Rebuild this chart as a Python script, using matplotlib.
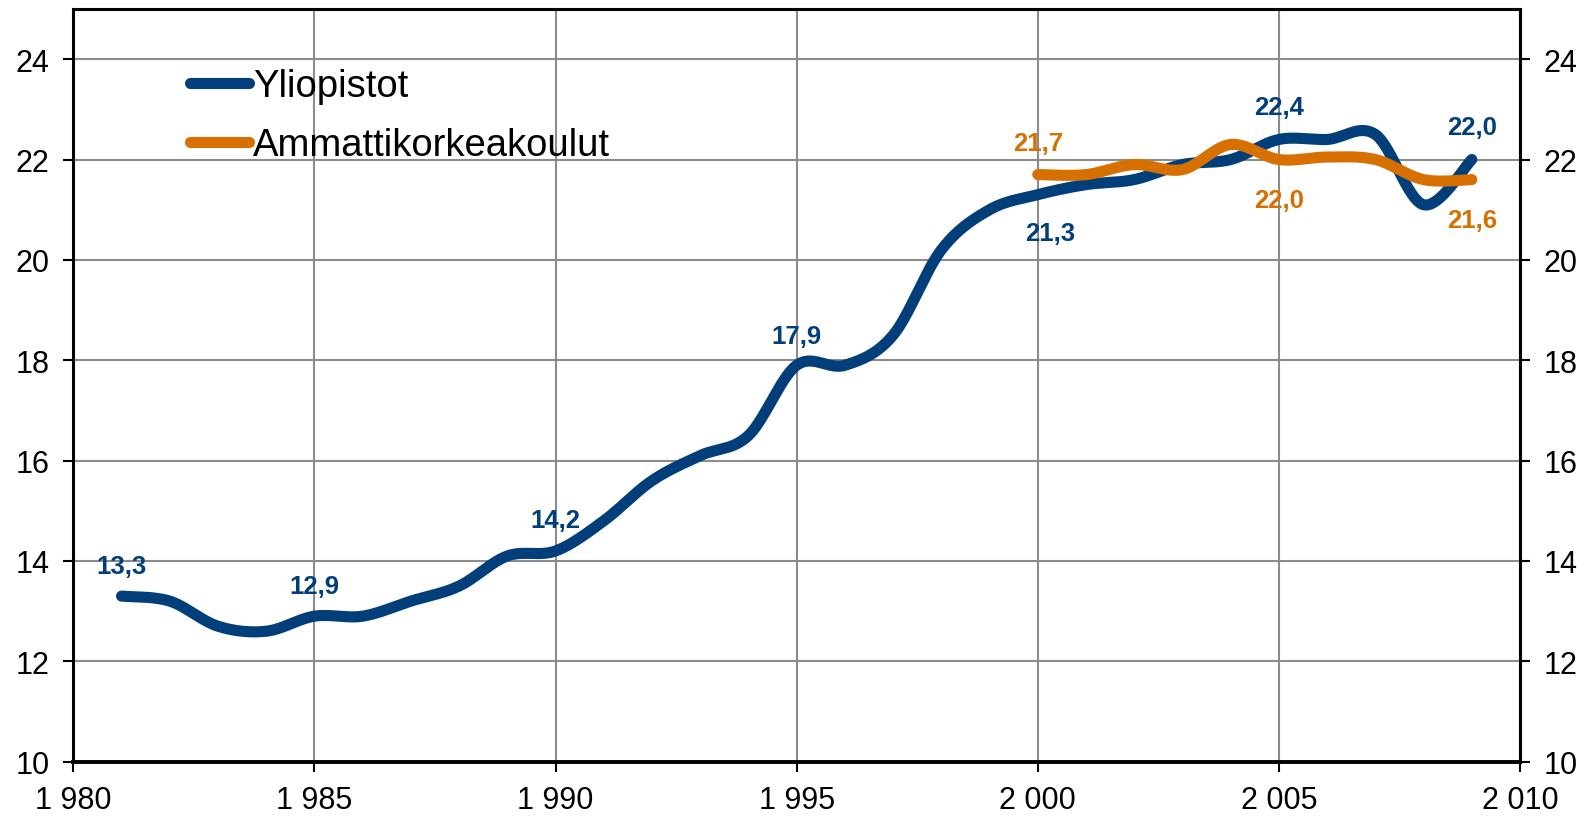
import numpy as np
import matplotlib.pyplot as plt
from matplotlib.ticker import FuncFormatter, MultipleLocator

plt.rcParams['font.family'] = ['Liberation Sans', 'DejaVu Sans']

# Yliopistot 1981-2009
yliopistotYears = list(range(1981, 2010))
yliopistotValues = [13.3, 13.2, 12.7, 12.6, 12.9, 12.9, 13.2, 13.5, 14.1, 14.2,
                    14.8, 15.6, 16.1, 16.5, 17.9, 17.9, 18.5, 20.2, 21.0, 21.3,
                    21.5, 21.6, 21.9, 22.0, 22.4, 22.4, 22.5, 21.1, 22.0]

# Ammattikorkeakoulut 2000-2009
amkYears = list(range(2000, 2010))
amkValues = [21.7, 21.7, 21.9, 21.8, 22.3, 22.0, 22.05, 22.0, 21.6, 21.6]

# years that get a value label, with label offset (x, y) in points
yliopistotLabels = {1981: (0, 21.5), 1985: (0, 22), 1990: (0, 22), 1995: (0, 21),
                    2000: (9, -27.5), 2005: (0, 23.5), 2009: (0, 23.5)}
amkLabels = {2000: (0, 22.5), 2005: (0, -29), 2009: (0, -29)}

blue = '#023F7A'
orange = '#D77000'


def smoothCurve(xs, ys, steps=40):
    # Catmull-Rom style bezier through the points (like a smoothed spreadsheet line)
    p = np.column_stack([xs, ys]).astype(float)
    p = np.vstack([p[0], p, p[-1]])
    out = []
    for i in range(1, len(p) - 2):
        p0, p1, p2, p3 = p[i - 1], p[i], p[i + 1], p[i + 2]
        c1 = p1 + (p2 - p0) / 6.0
        c2 = p2 - (p3 - p1) / 6.0
        t = np.linspace(0, 1, steps)[:, None]
        seg = ((1 - t) ** 3) * p1 + 3 * ((1 - t) ** 2) * t * c1 + 3 * (1 - t) * t ** 2 * c2 + t ** 3 * p2
        out.append(seg if i == 1 else seg[1:])
    out = np.vstack(out)
    return out[:, 0], out[:, 1]


def labelPoints(ax, years, values, labels, color):
    for yr, (dx, dy) in labels.items():
        v = values[years.index(yr)]
        ax.annotate(f"{v:.1f}".replace('.', ','), (yr, v), xytext=(dx, dy),
                    textcoords='offset points', ha='center', va='center',
                    fontsize=18.5, fontweight='bold', color=color)


fig = plt.figure(figsize=(15.91, 8.20), dpi=100)
ax = fig.add_axes([73.3 / 1591, 57.3 / 820, 1446.7 / 1591, 752.7 / 820])

xs, ys = smoothCurve(yliopistotYears, yliopistotValues)
ax.plot(xs, ys, color=blue, linewidth=8, solid_capstyle='round', label='Yliopistot', zorder=3)
xs, ys = smoothCurve(amkYears, amkValues)
ax.plot(xs, ys, color=orange, linewidth=8, solid_capstyle='round', label='Ammattikorkeakoulut', zorder=4)

labelPoints(ax, yliopistotYears, yliopistotValues, yliopistotLabels, blue)
labelPoints(ax, amkYears, amkValues, amkLabels, orange)

ax.set_xlim(1980, 2010)
ax.set_ylim(10, 25)
ax.xaxis.set_major_locator(MultipleLocator(5))
ax.set_yticks(range(10, 25, 2))
ax.xaxis.set_major_formatter(FuncFormatter(lambda x, pos: f"{int(x):,}".replace(',', ' ')))
ax.grid(True, color='#8c8c8c', linewidth=1.5)
ax.set_axisbelow(True)

for side in ['left', 'right', 'top']:
    ax.spines[side].set_linewidth(2.2)
ax.spines['bottom'].set_linewidth(2.8)
ax.tick_params(axis='both', direction='out', length=7, width=1.5, labelsize=22, pad=10)
ax.tick_params(axis='y', right=True, labelright=True)

leg = ax.legend(loc='upper left', bbox_to_anchor=(190 / 1591, (820 - 69) / 820),
                bbox_transform=fig.transFigure, frameon=False, fontsize=27.5,
                handlelength=1.55, handletextpad=0.1, borderpad=0, borderaxespad=0,
                labelspacing=0.6)
for line in leg.get_lines():
    line.set_linewidth(8)
    line.set_solid_capstyle('round')

plt.savefig('out.png', dpi=100)
